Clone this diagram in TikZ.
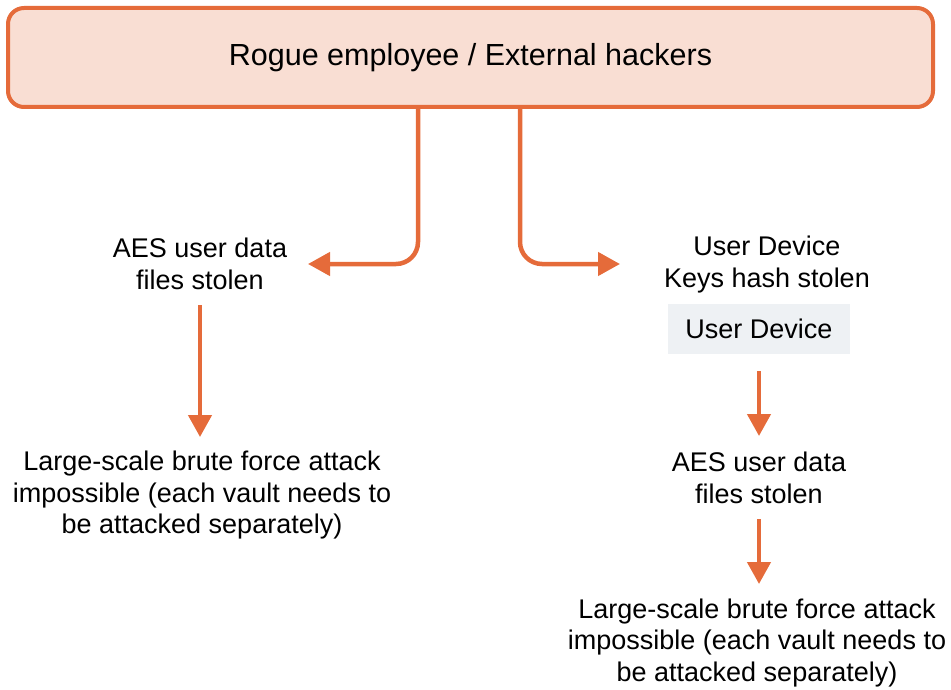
\documentclass[tikz,border=0pt]{standalone}
\usepackage{fontspec}
\setmainfont{Liberation Sans}
\usetikzlibrary{arrows.meta}
\definecolor{orng}{HTML}{E56B3A}
\definecolor{pch}{HTML}{F9DED3}
\definecolor{gry}{HTML}{EEF1F4}
\begin{document}
\begin{tikzpicture}[x=1pt,y=-1pt,
  conn/.style={draw=orng,line width=4.5pt,-{Triangle[width=23pt,length=22pt]}},
  txt/.style={align=center,inner sep=0pt,font=\fontsize{27}{31.5}\selectfont},
  topbox/.style={draw=orng,line width=4pt,fill=pch,rounded corners=16pt,minimum width=925pt,minimum height=99pt,inner sep=0pt,font=\fontsize{30.5}{34}\selectfont},
  devbox/.style={fill=gry,minimum width=182pt,minimum height=50pt,inner sep=0pt,font=\fontsize{27}{32}\selectfont}]
\useasboundingbox (0,0) rectangle (951,690);
\node[topbox] (top) at (470.5,57.5) {Rogue employee / External hackers};
\node[txt] (aesL) at (200,264) {AES user data\\files stolen};
\node[txt] (keys) at (767,264.5) {User Device\\Keys hash stolen};
\node[devbox] (dev) at (759,329) {User Device};
\node[txt] (aesR) at (759,478) {AES user data\\files stolen};
\node[txt] (bfL) at (202,495.5) {Large-scale brute force attack\\impossible (each vault needs to\\be attacked separately)};
\node[txt] (bfR) at (757,643) {Large-scale brute force attack\\impossible (each vault needs to\\be attacked separately)};
\coordinate (lx) at (418,0);
\coordinate (rx) at (520,0);
\coordinate (lend) at (308,264);
\coordinate (rend) at (620,264);
\draw[conn,rounded corners=22pt] (top.south -| lx) |- (lend);
\draw[conn,rounded corners=22pt] (top.south -| rx) |- (rend);
\draw[conn] (aesL.south |- 0,305) -- (aesL.south |- 0,437);
\draw[conn] (dev.south |- 0,371) -- (dev.south |- 0,436);
\draw[conn] (aesR.south |- 0,519) -- (aesR.south |- 0,584);
\end{tikzpicture}
\end{document}
